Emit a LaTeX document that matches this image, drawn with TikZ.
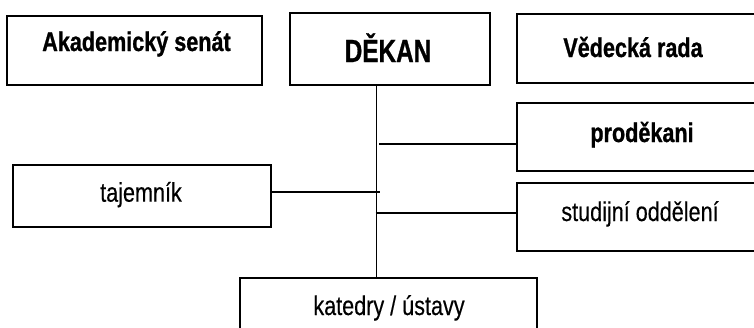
\documentclass[tikz,border=0pt]{standalone}
\usepackage{fontspec}
\setmainfont[FakeStretch=0.8, FakeBold=0.3, BoldFeatures={FakeStretch=0.8, FakeBold=0.9}]{Liberation Sans}
\newfontfamily\headfont[FakeStretch=0.76, BoldFeatures={FakeStretch=0.76, FakeBold=0.9}]{Liberation Sans}

\tikzset{
  orgbox/.style={draw=black, line width=2pt, rectangle, inner sep=0pt},
  lbl/.style={anchor=base, inner sep=0pt, font=\fontsize{27}{31}\selectfont},
  lblb/.style={lbl, font=\fontsize{27}{31}\selectfont\bfseries},
  link/.style={draw=black, line width=1.8pt}
}

\begin{document}
\begin{tikzpicture}[x=1pt, y=-1pt]
  \clip (0,0) rectangle (754,327);
  \fill[white] (0,0) rectangle (754,327);

  % boxes of the faculty bodies
  \node[orgbox, minimum width=255pt, minimum height=69pt]   (senat) at (134.5,50)  {};
  \node[orgbox, minimum width=200pt, minimum height=72.5pt] (dekan) at (389.5,48.75) {};
  \node[orgbox, minimum width=249.5pt, minimum height=69pt] (rada)  at (641.25,48.5) {};
  \node[orgbox, minimum width=249.5pt, minimum height=68pt] (prod)  at (641.25,137) {};
  \node[orgbox, minimum width=249.5pt, minimum height=68pt] (stud)  at (641.25,217) {};
  \node[orgbox, minimum width=258pt, minimum height=62pt]   (taj)   at (142,196)   {};
  \node[orgbox, minimum width=297pt, minimum height=68pt]   (kat)   at (388.5,312) {};

  % texts
  \node[lblb] (tsenat) at (136.5,51) {Akademický senát};
  \node[anchor=base, inner sep=0pt, font=\headfont\fontsize{32}{36}\selectfont\bfseries] (tdekan) at (388,62) {DĚKAN};
  \node[lblb] (trada)  at (633,57)  {Vědecká rada};
  \node[lblb] (tprod)  at (642,142) {proděkani};
  \node[lbl]  (tstud)  at (640,221) {studijní oddělení};
  \node[lbl]  (ttaj)   at (141,201.7) {tajemník};
  \node[lbl]  (tkat)   at (389,315)  {katedry / ústavy};

  % connectors
  \coordinate (spine) at (376.5,0);
  \draw[link] (spine |- dekan.south) -- (spine |- kat.north);
  \draw[link] ([xshift=2.5pt]spine |- 0,144) -- ([xshift=1.5pt]prod.west |- 0,144);
  \draw[link] (taj.east |- 0,191.7) -- ([xshift=3.5pt]spine |- 0,191.7);
  \draw[link] ([xshift=-1pt]spine |- 0,213) -- (stud.west |- 0,213);
\end{tikzpicture}
\end{document}
